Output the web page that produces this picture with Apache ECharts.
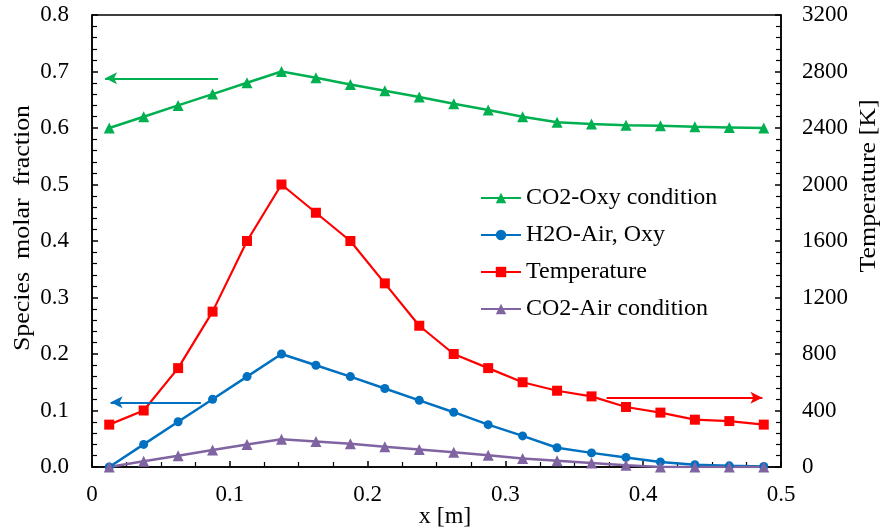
<!DOCTYPE html>
<html>
<head>
<meta charset="utf-8">
<script src="https://cdn.jsdelivr.net/npm/echarts@6/dist/echarts.min.js"></script>
<style>
  html, body { margin: 0; padding: 0; background: #fff; }
  #chart { width: 880px; height: 529px; }
</style>
</head>
<body>
<div id="chart"></div>
<script>
// positions along the burner [m]
var xPos = [0.0125, 0.0375, 0.0625, 0.0875, 0.1125, 0.1375, 0.1625, 0.1875, 0.2125, 0.2375,
            0.2625, 0.2875, 0.3125, 0.3375, 0.3625, 0.3875, 0.4125, 0.4375, 0.4625, 0.4875];
var co2Oxy = [0.600, 0.620, 0.640, 0.660, 0.680, 0.700, 0.689, 0.677, 0.666, 0.655,
              0.643, 0.632, 0.620, 0.610, 0.607, 0.605, 0.604, 0.602, 0.601, 0.600];
var h2o = [0.000, 0.040, 0.080, 0.120, 0.160, 0.200, 0.180, 0.160, 0.139, 0.118,
           0.097, 0.075, 0.055, 0.034, 0.025, 0.017, 0.009, 0.004, 0.002, 0.001];
var temperature = [300, 400, 700, 1100, 1600, 2000, 1800, 1600, 1300, 1000,
                   800, 700, 600, 540, 500, 425, 385, 335, 325, 300];
var co2Air = [0.000, 0.010, 0.020, 0.030, 0.040, 0.049, 0.045, 0.041, 0.036, 0.031,
              0.026, 0.021, 0.015, 0.011, 0.007, 0.003, 0.000, 0.000, 0.000, 0.000];

function pairs(ys) {
  return xPos.map(function (x, i) { return [x, ys[i]]; });
}

var font = 'Liberation Serif, Times New Roman, serif';
var chart = echarts.init(document.getElementById('chart'));
var option = {
  animation: false,
  textStyle: { fontFamily: font },
  grid: { left: 92, right: 99, top: 15, bottom: 62, outerBoundsMode: 'none', containLabel: false,
    show: true, borderColor: '#000', borderWidth: 1.5 },
  legend: {
    orient: 'vertical',
    left: 480, top: 186, padding: 0,
    itemWidth: 40, itemHeight: 13, itemGap: 13,
    textStyle: { fontFamily: font, fontSize: 24, color: '#000' },
    data: ['CO2-Oxy condition', 'H2O-Air, Oxy', 'Temperature', 'CO2-Air condition']
  },
  xAxis: {
    type: 'value', min: 0, max: 0.5, interval: 0.1,
    name: 'x [m]', nameLocation: 'middle', nameGap: 38, nameMoveOverlap: false,
    nameTextStyle: { fontFamily: font, fontSize: 24, color: '#000', padding: [0, 0, 0, 17] },
    axisLine: { lineStyle: { color: '#000', width: 1.5 } },
    axisTick: { inside: true, length: 6, lineStyle: { color: '#000', width: 1.5 } },
    minorTick: { show: true, splitNumber: 4, length: 5, lineStyle: { color: '#000', width: 1.2 } },
    splitLine: { show: false },
    axisLabel: { margin: 16, fontFamily: font, fontSize: 23, color: '#000',
      formatter: function (v) { return v === 0 ? '0' : v.toFixed(1); } }
  },
  yAxis: [{
    type: 'value', min: 0, max: 0.8, interval: 0.1,
    axisLine: { show: true, lineStyle: { color: '#000', width: 1.5 } },
    axisTick: { inside: true, length: 6, lineStyle: { color: '#000', width: 1.5 } },
    minorTick: { show: true, splitNumber: 5, length: 5, lineStyle: { color: '#000', width: 1.2 } },
    splitLine: { show: false },
    axisLabel: { margin: 23, fontFamily: font, fontSize: 23, color: '#000',
      formatter: function (v) { return v.toFixed(1); } }
  }, {
    type: 'value', min: 0, max: 3200, interval: 400, position: 'right',
    axisLine: { show: true, lineStyle: { color: '#000', width: 1.5 } },
    axisTick: { inside: true, length: 6, lineStyle: { color: '#000', width: 1.5 } },
    minorTick: { show: true, splitNumber: 5, length: 5, lineStyle: { color: '#000', width: 1.2 } },
    splitLine: { show: false },
    axisLabel: { margin: 21, fontFamily: font, fontSize: 23, color: '#000',
      formatter: function (v) { return String(v); } }
  }],
  graphic: [{
    type: 'text', x: 11, y: 228, rotation: Math.PI / 2, scaleX: 1.08,
    style: { text: 'Species  molar  fraction', font: '24px ' + font, fill: '#000',
      align: 'center', verticalAlign: 'top' }
  }, {
    type: 'text', x: 857, y: 186, rotation: Math.PI / 2, scaleX: 1.08,
    style: { text: 'Temperature [K]', font: '24px ' + font, fill: '#000',
      align: 'center', verticalAlign: 'top' }
  }],
  series: [{
    name: 'CO2-Oxy condition', type: 'line', data: pairs(co2Oxy),
    symbol: 'triangle', symbolSize: 11,
    itemStyle: { color: '#00B050' }, lineStyle: { color: '#00B050', width: 2.5 },
    markLine: {
      silent: true, symbol: ['none', 'arrow'], symbolSize: [9, 12],
      label: { show: false },
      lineStyle: { color: '#00B050', width: 2, type: 'solid' },
      data: [[{ coord: [0.0915, 0.688] }, { coord: [0.0095, 0.688] }]]
    }
  }, {
    name: 'H2O-Air, Oxy', type: 'line', data: pairs(h2o),
    symbol: 'circle', symbolSize: 9,
    itemStyle: { color: '#0070C0' }, lineStyle: { color: '#0070C0', width: 2.5 },
    markLine: {
      silent: true, symbol: ['none', 'arrow'], symbolSize: [9, 12],
      label: { show: false },
      lineStyle: { color: '#0070C0', width: 1.8, type: 'solid' },
      data: [[{ coord: [0.079, 0.1145] }, { coord: [0.0135, 0.1145] }]]
    }
  }, {
    name: 'Temperature', type: 'line', yAxisIndex: 1, data: pairs(temperature),
    symbol: 'rect', symbolSize: 10,
    itemStyle: { color: '#FF0000' }, lineStyle: { color: '#FF0000', width: 2.2 },
    markLine: {
      silent: true, symbol: ['none', 'arrow'], symbolSize: [9, 12],
      label: { show: false },
      lineStyle: { color: '#FF0000', width: 1.8, type: 'solid' },
      data: [[{ coord: [0.3735, 490] }, { coord: [0.4865, 490] }]]
    }
  }, {
    name: 'CO2-Air condition', type: 'line', data: pairs(co2Air),
    symbol: 'triangle', symbolSize: 11,
    itemStyle: { color: '#8064A2' }, lineStyle: { color: '#8064A2', width: 2.5 }
  }]
};
chart.setOption(option);
window.addEventListener('resize', function () {
  chart.resize();
});
</script>
</body>
</html>
